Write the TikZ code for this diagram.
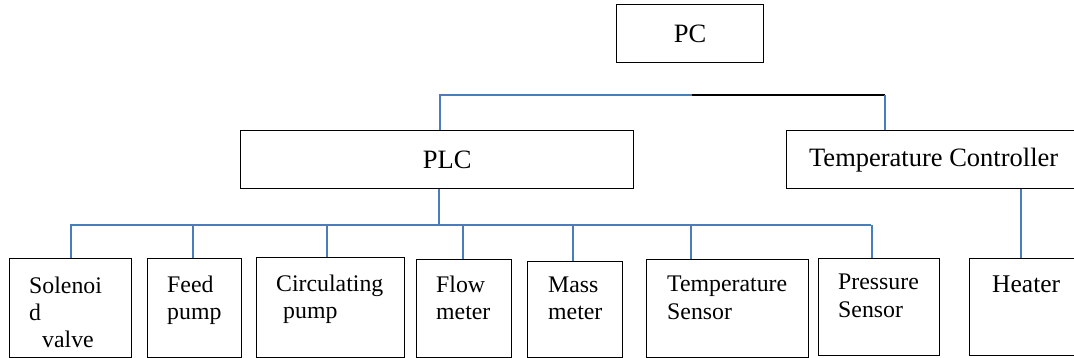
\documentclass[tikz,border=0pt]{standalone}
\usepackage{fontspec}
\setmainfont{Liberation Serif}
\usepackage{tikz}
\usetikzlibrary{positioning,calc}
\definecolor{wireblue}{RGB}{74,126,187}

\begin{document}
\begin{tikzpicture}[x=1pt, y=-1pt,
    box/.style={draw, line width=1.3pt, inner sep=0pt, anchor=north west,
        font=\fontsize{26.5}{27}\selectfont},
    lbl/.style={inner sep=0pt, anchor=north west, align=left,
        font=\fontsize{23.8}{27.2}\selectfont},
    wire/.style={draw=wireblue, line width=1.7pt}]
    \useasboundingbox (0,0) rectangle (1074,358);

    % top level
    \node[box, minimum width=147pt, minimum height=58pt] (pc) at (616,4) {PC};
    \node[box, minimum width=393pt, minimum height=58pt] (plc) at (240,130) {\hspace*{20pt}PLC};
    \node[box, minimum width=294pt, minimum height=58pt] (tc) at (786,130) {Temperature Controller};

    % field devices
    \node[box, minimum width=122pt, minimum height=99pt] (sol) at (9,258) {};
    \node[box, minimum width=94pt, minimum height=99pt] (feed) at (147,258) {};
    \node[box, minimum width=148pt, minimum height=100pt] (circ) at (256,257) {};
    \node[box, minimum width=95pt, minimum height=98pt] (flow) at (416,259) {};
    \node[box, minimum width=95pt, minimum height=96pt] (mass) at (527,261) {};
    \node[box, minimum width=162pt, minimum height=98pt] (tsens) at (646,259) {};
    \node[box, minimum width=121pt, minimum height=97pt] (psens) at (818,258) {};
    \node[box, minimum width=116pt, minimum height=97pt] (heat) at (969,258) {};

    \node[lbl] (soltxt) at (29,276.4) {Solenoi\\d\\\hspace*{13pt}valve};
    \node[lbl] (feedtxt) at (167,275.4) {Feed\\pump};
    \node[lbl] (circtxt) at (276,274.4) {Circulating\\\hspace*{7pt}pump};
    \node[lbl] (flowtxt) at (436,275.7) {Flow\\meter};
    \node[lbl] (masstxt) at (548,277) {Mass\\meter};
    \node[lbl] (tsenstxt) at (667,276.2) {Temperature\\Sensor};
    \node[lbl] (psenstxt) at (838,274.2) {Pressure\\Sensor};
    \node[lbl, font=\fontsize{25.5}{27}\selectfont] (heattxt) at (992,275.8) {Heater};

    % bus from PC level
    \coordinate (tl) at (440,95);
    \coordinate (tm) at (692,95);
    \coordinate (tr) at (885,95);
    \draw[wire] (tl |- plc.north) -- (tl) -- (tm);
    \draw[line width=1.7pt] (tm) -- (tr);
    \draw[wire] (tr) -- (tr |- tc.north);

    % bus below PLC
    \coordinate (bl) at (70,225);
    \coordinate (br) at (871,225);
    \draw[wire] ([xshift=1.5pt]plc.south) -- ([xshift=1.5pt]plc.south |- bl);
    \draw[wire] (bl) -- (br);
    \foreach \n/\dx in {sol/0,feed/-2,circ/-4,flow/-1.5,mass/-2.5,tsens/-37,psens/-7.5}
        \draw[wire] ([xshift=\dx pt]\n.north) -- ([xshift=\dx pt]\n.north |- bl);

    % heater
    \draw[wire] (tc.south -| 1021,0) -- (heat.north -| 1021,0);
\end{tikzpicture}
\end{document}
